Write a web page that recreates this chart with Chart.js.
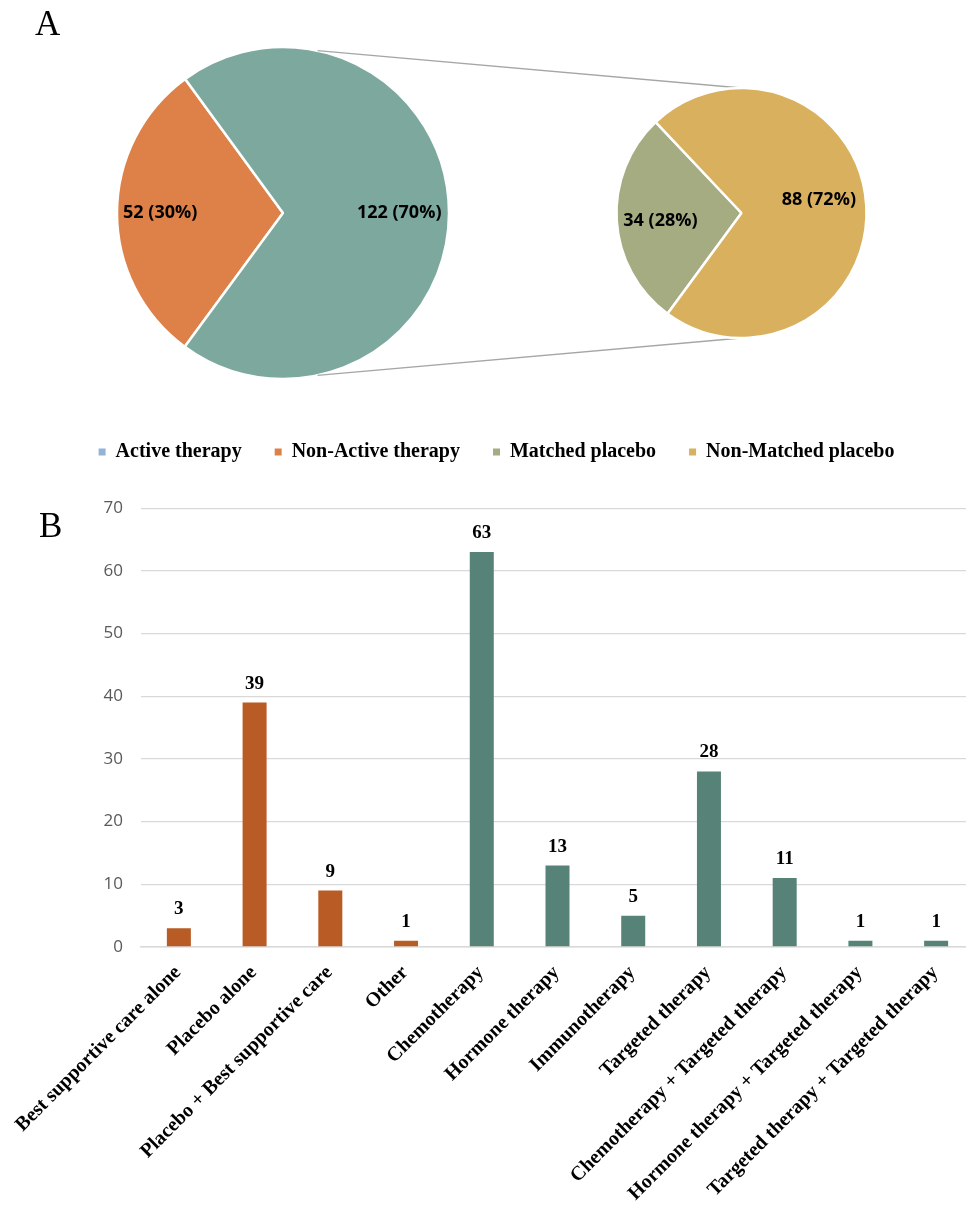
<!DOCTYPE html>
<html>
<head>
<meta charset="utf-8">
<script src="https://cdn.jsdelivr.net/npm/chart.js@4.4.1/dist/chart.umd.min.js"></script>
<style>
  html, body { margin: 0; padding: 0; overflow: hidden; background: #ffffff; }
  #wrap { position: relative; width: 966px; height: 1207px; overflow: hidden; background: #ffffff; }
  canvas { position: absolute; }
  .panel { position: absolute; font-family: "Liberation Serif", "Times New Roman", serif; font-size: 35px; line-height: 1; color: #000; }
</style>
</head>
<body>
<div id="wrap">
  <canvas id="pieMain" width="966" height="472" style="left:0;top:0;"></canvas>
  <canvas id="pieSub" width="966" height="472" style="left:0;top:0;"></canvas>
  <canvas id="bars" width="975" height="727" style="left:0;top:480px;"></canvas>
  <div class="panel" style="left:35px;top:6px;">A</div>
  <div class="panel" style="left:39px;top:508px;">B</div>
</div>
<script>
// ---------- Data ----------
const mainLabels = ['Non-Active therapy', 'Active therapy'];
const mainValues = [52, 122];
const subLabels = ['Matched placebo', 'Non-Matched placebo'];
const subValues = [34, 88];
const legendLabels = ['Active therapy', 'Non-Active therapy', 'Matched placebo', 'Non-Matched placebo'];

const categories = ['Best supportive care alone', 'Placebo alone', 'Placebo + Best supportive care', 'Other',
  'Chemotherapy', 'Hormone therapy', 'Immunotherapy', 'Targeted therapy',
  'Chemotherapy + Targeted therapy', 'Hormone therapy + Targeted therapy', 'Targeted therapy + Targeted therapy'];
const counts = [3, 39, 9, 1, 63, 13, 5, 28, 11, 1, 1];
const groups = ['non', 'non', 'non', 'non', 'act', 'act', 'act', 'act', 'act', 'act', 'act'];
const yTicks = [0, 10, 20, 30, 40, 50, 60, 70];

// ---------- Styles ----------
const mainColors = ['#DE8149', '#7CA89D'];
const subColors = ['#A5AC82', '#D9B15E'];
const legendColors = ['#93B3D7', '#DE8149', '#A5AC82', '#D9B15E'];
const barColors = { non: '#B95B24', act: '#578278' };
const SERIF = '"Liberation Serif", "Times New Roman", serif';
const SANS = '"Open Sans", "Noto Sans", sans-serif';

// ---------- Plugins ----------
const placePie = {
  id: 'placePie',
  afterLayout(chart, args, opts) {
    const a = chart.chartArea;
    a.left = opts.cx - opts.r; a.right = opts.cx + opts.r;
    a.top = opts.cy - opts.r; a.bottom = opts.cy + opts.r;
    a.width = 2 * opts.r; a.height = 2 * opts.r;
  }
};

const sliceLabels = {
  id: 'sliceLabels',
  afterDatasetsDraw(chart, args, opts) {
    const ctx = chart.ctx;
    const meta = chart.getDatasetMeta(0);
    const data = chart.data.datasets[0].data;
    const total = data.reduce((s, v) => s + v, 0);
    ctx.save();
    ctx.font = 'bold 18px ' + SANS;
    ctx.fillStyle = '#000';
    ctx.textAlign = 'center';
    ctx.textBaseline = 'middle';
    meta.data.forEach((arc, i) => {
      const mid = (arc.startAngle + arc.endAngle) / 2;
      const r = arc.outerRadius * opts.fraction[i];
      const txt = data[i] + ' (' + Math.round(data[i] / total * 100) + '%)';
      ctx.fillText(txt, arc.x + Math.cos(mid) * r, arc.y + Math.sin(mid) * r + (opts.dy ? opts.dy[i] : 0));
    });
    ctx.restore();
  }
};

let mainChart = null;
const connectors = {
  id: 'connectors',
  beforeDatasetsDraw(chart, args, opts) {
    if (!mainChart) return;
    const big = mainChart.getDatasetMeta(0).data[0];
    const small = chart.getDatasetMeta(0).data[0];
    const ang = opts.angle * Math.PI / 180;
    const ctx = chart.ctx;
    ctx.save();
    ctx.strokeStyle = '#A6A6A6';
    ctx.lineWidth = 1.3;
    [-1, 1].forEach(s => {
      ctx.beginPath();
      ctx.moveTo(big.x + big.outerRadius * Math.cos(ang), big.y + s * big.outerRadius * Math.sin(ang));
      ctx.lineTo(small.x, small.y + s * small.outerRadius);
      ctx.stroke();
    });
    ctx.restore();
  }
};

const barValues = {
  id: 'barValues',
  afterDatasetsDraw(chart) {
    const ctx = chart.ctx;
    const meta = chart.getDatasetMeta(0);
    const data = chart.data.datasets[0].data;
    ctx.save();
    ctx.font = 'bold 19px ' + SERIF;
    ctx.fillStyle = '#000';
    ctx.textAlign = 'center';
    ctx.textBaseline = 'alphabetic';
    meta.data.forEach((bar, i) => {
      ctx.fillText(String(data[i]), bar.x, bar.y - 14);
    });
    ctx.restore();
  }
};

// ---------- Main pie (with legend) ----------
mainChart = new Chart(document.getElementById('pieMain'), {
  type: 'pie',
  data: {
    labels: mainLabels,
    datasets: [{
      data: mainValues,
      backgroundColor: mainColors,
      borderColor: '#ffffff',
      borderWidth: 2.5,
      radius: 166
    }]
  },
  options: {
    responsive: false,
    animation: false,
    rotation: 216.3,
    events: [],
    layout: { padding: { left: 27 } },
    plugins: {
      tooltip: { enabled: false },
      placePie: { cx: 283, cy: 213, r: 166 },
      sliceLabels: { fraction: [0.74, 0.70] },
      legend: {
        position: 'bottom',
        onClick: null,
        labels: {
          boxWidth: 7,
          boxHeight: 7,
          padding: 33,
          color: '#000',
          font: { family: SERIF, size: 20, weight: 'bold' },
          generateLabels: () => legendLabels.map((t, i) => ({
            text: t, fillStyle: legendColors[i], strokeStyle: legendColors[i],
            lineWidth: 0, hidden: false, index: i, fontColor: '#000'
          }))
        }
      }
    }
  },
  plugins: [placePie, sliceLabels]
});

// ---------- Secondary pie ----------
new Chart(document.getElementById('pieSub'), {
  type: 'pie',
  data: {
    labels: subLabels,
    datasets: [{
      data: subValues,
      backgroundColor: subColors,
      borderColor: '#ffffff',
      borderWidth: 2.5,
      radius: 125
    }]
  },
  options: {
    responsive: false,
    animation: false,
    rotation: 216.3,
    events: [],
    plugins: {
      tooltip: { enabled: false },
      legend: { display: false },
      placePie: { cx: 741.5, cy: 213, r: 125 },
      sliceLabels: { fraction: [0.65, 0.62], dy: [3, -8] },
      connectors: { angle: 78 }
    }
  },
  plugins: [placePie, sliceLabels, connectors]
});

// ---------- Bar chart ----------
new Chart(document.getElementById('bars'), {
  type: 'bar',
  data: {
    labels: categories,
    datasets: [{
      data: counts,
      backgroundColor: groups.map(g => barColors[g]),
      borderWidth: 0,
      barPercentage: 0.317,
      categoryPercentage: 1
    }]
  },
  options: {
    responsive: false,
    animation: false,
    events: [],
    layout: { padding: { top: 28, left: 0, right: 1, bottom: 0 } },
    plugins: { legend: { display: false }, tooltip: { enabled: false } },
    scales: {
      x: {
        grid: { display: false, drawTicks: false },
        border: { display: true, color: '#D9D9D9', width: 1.5 },
        ticks: {
          autoSkip: false, minRotation: 45, maxRotation: 45,
          padding: 14, labelOffset: -1,
          color: '#000',
          font: { family: SERIF, size: 20, weight: 'bold' }
        },
        afterFit(s) { s.height = 260; s.paddingLeft = 0; s.paddingRight = 0; }
      },
      y: {
        min: 0, max: 70,
        afterBuildTicks(s) { s.ticks = yTicks.map(v => ({ value: v })); },
        grid: { color: '#D9D9D9', lineWidth: 1.3, drawTicks: false },
        border: { display: false },
        ticks: {
          padding: 18, color: '#595959',
          font: { family: SANS, size: 17 }
        },
        afterFit(s) { s.width = 141; }
      }
    }
  },
  plugins: [barValues]
});
</script>
</body>
</html>
